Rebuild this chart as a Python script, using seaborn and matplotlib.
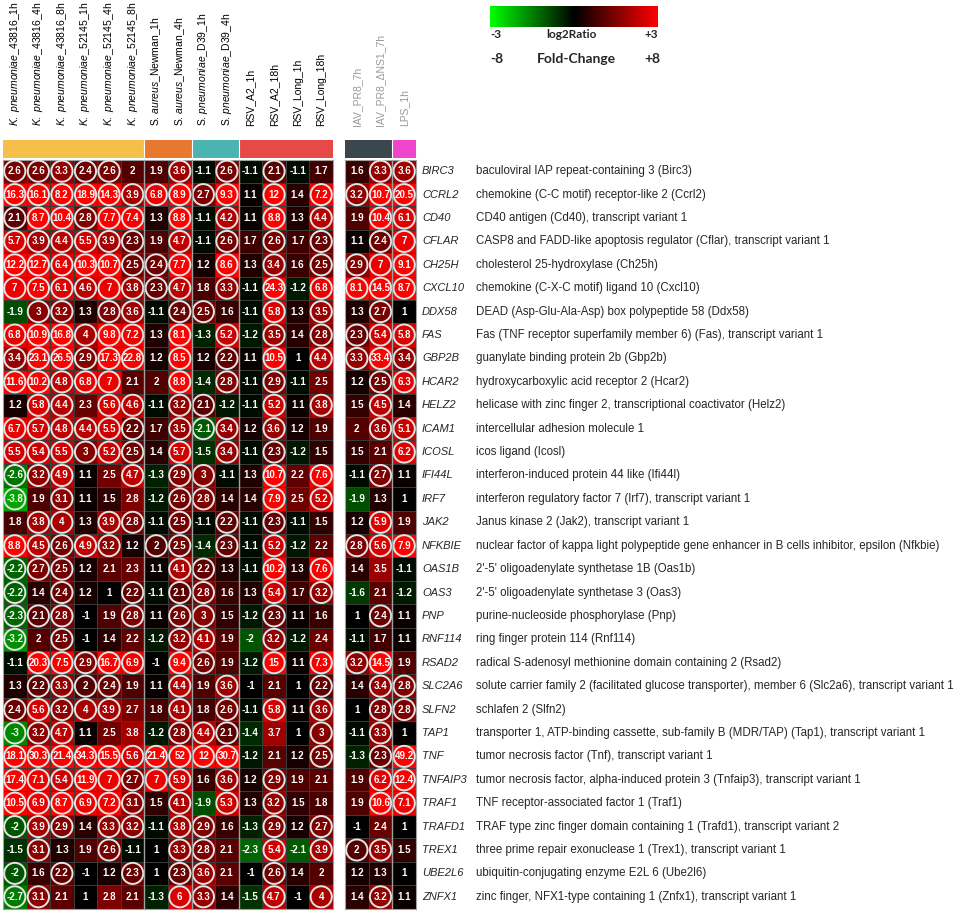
import numpy as np
import pandas as pd
import seaborn as sns
import matplotlib.pyplot as plt
from matplotlib.colors import LinearSegmentedColormap, ListedColormap
from matplotlib.patches import Circle

genes = ["BIRC3", "CCRL2", "CD40", "CFLAR", "CH25H", "CXCL10", "DDX58", "FAS",
         "GBP2B", "HCAR2", "HELZ2", "ICAM1", "ICOSL", "IFI44L", "IRF7", "JAK2",
         "NFKBIE", "OAS1B", "OAS3", "PNP", "RNF114", "RSAD2", "SLC2A6", "SLFN2",
         "TAP1", "TNF", "TNFAIP3", "TRAF1", "TRAFD1", "TREX1", "UBE2L6", "ZNFX1"]

descriptions = [
    "baculoviral IAP repeat-containing 3 (Birc3)",
    "chemokine (C-C motif) receptor-like 2 (Ccrl2)",
    "CD40 antigen (Cd40), transcript variant 1",
    "CASP8 and FADD-like apoptosis regulator (Cflar), transcript variant 1",
    "cholesterol 25-hydroxylase (Ch25h)",
    "chemokine (C-X-C motif) ligand 10 (Cxcl10)",
    "DEAD (Asp-Glu-Ala-Asp) box polypeptide 58 (Ddx58)",
    "Fas (TNF receptor superfamily member 6) (Fas), transcript variant 1",
    "guanylate binding protein 2b (Gbp2b)",
    "hydroxycarboxylic acid receptor 2 (Hcar2)",
    "helicase with zinc finger 2, transcriptional coactivator (Helz2)",
    "intercellular adhesion molecule 1",
    "icos ligand (Icosl)",
    "interferon-induced protein 44 like (Ifi44l)",
    "interferon regulatory factor 7 (Irf7), transcript variant 1",
    "Janus kinase 2 (Jak2), transcript variant 1",
    "nuclear factor of kappa light polypeptide gene enhancer in B cells inhibitor, epsilon (Nfkbie)",
    "2'-5' oligoadenylate synthetase 1B (Oas1b)",
    "2'-5' oligoadenylate synthetase 3 (Oas3)",
    "purine-nucleoside phosphorylase (Pnp)",
    "ring finger protein 114 (Rnf114)",
    "radical S-adenosyl methionine domain containing 2 (Rsad2)",
    "solute carrier family 2 (facilitated glucose transporter), member 6 (Slc2a6), transcript variant 1",
    "schlafen 2 (Slfn2)",
    "transporter 1, ATP-binding cassette, sub-family B (MDR/TAP) (Tap1), transcript variant 1",
    "tumor necrosis factor (Tnf), transcript variant 1",
    "tumor necrosis factor, alpha-induced protein 3 (Tnfaip3), transcript variant 1",
    "TNF receptor-associated factor 1 (Traf1)",
    "TRAF type zinc finger domain containing 1 (Trafd1), transcript variant 2",
    "three prime repair exonuclease 1 (Trex1), transcript variant 1",
    "ubiquitin-conjugating enzyme E2L 6 (Ube2l6)",
    "zinc finger, NFX1-type containing 1 (Znfx1), transcript variant 1",
]

bacteria_virus = [r"$\mathit{K.\ pneumoniae}$_43816_1h", r"$\mathit{K.\ pneumoniae}$_43816_4h",
                  r"$\mathit{K.\ pneumoniae}$_43816_8h", r"$\mathit{K.\ pneumoniae}$_52145_1h",
                  r"$\mathit{K.\ pneumoniae}$_52145_4h", r"$\mathit{K.\ pneumoniae}$_52145_8h",
                  r"S. $\mathit{aureus}$_Newman_1h", r"S. $\mathit{aureus}$_Newman_4h",
                  r"S. $\mathit{pneumoniae}$_D39_1h", r"S. $\mathit{pneumoniae}$_D39_4h",
                  "RSV_A2_1h", "RSV_A2_18h", "RSV_Long_1h", "RSV_Long_18h"]
other_conditions = ["IAV_PR8_7h", "IAV_PR8_\u0394NS1_7h", "LPS_1h"]

left_groups = [0, 0, 0, 0, 0, 0, 1, 1, 2, 2, 3, 3, 3, 3]
right_groups = [4, 4, 5]
group_colors = ["#F4C04A", "#E8782F", "#4BB4B1", "#E64A46", "#3B474F", "#EE45CC"]

# fold change, 14 left columns then IAV_PR8_7h, IAV_PR8_dNS1_7h, LPS_1h
fold_change = [
    [2.6, 2.6, 3.3, 2.4, 2.6, 2, 1.9, 3.6, -1.1, 2.6, -1.1, 2.1, -1.1, 1.7, 1.6, 3.3, 3.6],
    [16.3, 16.1, 8.2, 18.9, 14.3, 3.9, 6.8, 8.9, 2.7, 9.3, 1.1, 12, 1.4, 7.2, 3.2, 10.7, 20.5],
    [2.1, 8.7, 10.4, 2.8, 7.7, 7.4, 1.3, 8.8, -1.1, 4.2, 1.1, 8.8, 1.3, 4.4, 1.9, 10.4, 6.1],
    [5.7, 3.9, 4.4, 5.5, 3.9, 2.3, 1.9, 4.7, -1.1, 2.6, 1.7, 2.6, 1.7, 2.3, 1.1, 2.4, 7],
    [12.2, 12.7, 6.4, 10.3, 10.7, 2.5, 2.4, 7.7, 1.2, 8.6, 1.3, 3.4, 1.6, 2.5, 2.9, 7, 9.1],
    [7, 7.5, 6.1, 4.6, 7, 3.8, 2.3, 4.7, 1.8, 3.3, -1.1, 24.3, -1.2, 6.8, 8.1, 14.5, 8.7],
    [-1.9, 3, 3.2, 1.3, 2.8, 3.6, -1.1, 2.4, 2.5, 1.6, -1.1, 5.8, 1.3, 3.5, 1.3, 2.7, 1],
    [6.8, 10.9, 16.8, 4, 9.8, 7.2, 1.3, 8.1, -1.3, 5.2, -1.2, 3.5, 1.4, 2.8, 2.3, 5.4, 5.8],
    [3.4, 23.1, 26.5, 2.9, 17.3, 22.8, 1.2, 8.5, 1.2, 2.2, 1.1, 10.5, 1, 4.4, 3.3, 33.4, 3.4],
    [11.6, 10.2, 4.8, 6.8, 7, 2.1, 2, 8.8, -1.4, 2.8, -1.1, 2.9, -1.1, 2.5, 1.2, 2.5, 6.3],
    [1.2, 5.8, 4.4, 2.3, 5.6, 4.6, -1.1, 3.2, 2.1, -1.2, -1.1, 5.2, 1.1, 3.8, 1.5, 4.5, 1.4],
    [6.7, 5.7, 4.8, 4.4, 5.5, 2.2, 1.7, 3.5, -2.1, 3.4, 1.2, 3.6, 1.2, 1.9, 2, 3.6, 5.1],
    [5.5, 5.4, 5.5, 3, 5.2, 2.5, 1.4, 5.7, -1.5, 3.4, -1.1, 2.3, -1.2, 1.5, 1.5, 2.1, 6.2],
    [-2.6, 3.2, 4.9, 1.1, 2.5, 4.7, -1.3, 2.9, 3, -1.1, 1.3, 10.7, 2.2, 7.6, -1.1, 2.7, 1.1],
    [-3.8, 1.9, 3.1, 1.1, 1.5, 2.8, -1.2, 2.6, 2.8, 1.4, 1.4, 7.9, 2.5, 5.2, -1.9, 1.3, 1],
    [1.8, 3.8, 4, 1.3, 3.9, 2.8, -1.1, 2.5, -1.1, 2.2, -1.1, 2.3, -1.1, 1.5, 1.2, 5.9, 1.9],
    [8.8, 4.5, 2.6, 4.9, 3.2, 1.2, 2, 2.5, -1.4, 2.3, -1.1, 5.2, -1.2, 2.2, 2.8, 5.6, 7.9],
    [-2.2, 2.7, 2.5, 1.2, 2.1, 2.3, 1.1, 4.1, 2.2, 1.3, -1.1, 10.2, 1.3, 7.6, 1.4, 3.5, -1.1],
    [-2.2, 1.4, 2.4, 1.2, 1, 2.2, -1.1, 2.1, 2.8, 1.6, 1.3, 5.4, 1.7, 3.2, -1.6, 2.1, -1.2],
    [-2.3, 2.1, 2.8, -1, 1.9, 2.8, 1.1, 2.6, 3, 1.5, -1.2, 2.3, 1.1, 1.6, 1, 2.4, 1.1],
    [-3.2, 2, 2.5, -1, 1.4, 2.2, -1.2, 3.2, 4.1, 1.9, -2, 3.2, -1.2, 2.4, -1.1, 1.7, 1.1],
    [-1.1, 20.3, 7.5, 2.9, 16.7, 6.9, -1, 9.4, 2.6, 1.9, -1.2, 15, 1.1, 7.3, 3.2, 14.5, 1.9],
    [1.3, 2.2, 3.3, 2, 2.4, 1.9, 1.1, 4.4, 1.9, 3.6, -1, 2.1, 1, 2.2, 1.4, 3.4, 2.8],
    [2.4, 5.6, 3.2, 4, 3.9, 2.7, 1.8, 4.1, 1.8, 2.6, -1.1, 5.8, 1.1, 3.6, 1, 2.8, 2.8],
    [-3, 3.2, 4.7, 1.1, 2.5, 3.8, -1.2, 2.8, 4.4, 2.1, -1.4, 3.7, 1, 3, -1.1, 3.3, 1],
    [18.1, 30.3, 21.4, 34.3, 15.5, 5.6, 21.4, 52, 12, 30.7, -1.2, 2.1, 1.2, 2.5, -1.3, 2.3, 49.2],
    [17.4, 7.1, 5.4, 11.9, 7, 2.7, 7, 5.9, 1.6, 3.6, 1.2, 2.9, 1.9, 2.1, 1.9, 6.2, 12.4],
    [10.5, 6.9, 8.7, 6.9, 7.2, 3.1, 1.5, 4.1, -1.9, 5.3, 1.3, 3.2, 1.5, 1.8, 1.9, 10.6, 7.1],
    [-2, 3.9, 2.9, 1.4, 3.3, 3.2, -1.1, 3.8, 2.9, 1.6, -1.3, 2.9, 1.2, 2.7, -1, 2.4, 1],
    [-1.5, 3.1, 1.3, 1.9, 2.6, -1.1, 1, 3.3, 2.8, 2.1, -2.3, 5.4, -2.1, 3.9, 2, 3.5, 1.5],
    [-2, 1.6, 2.2, -1, 1.2, 2.3, 1, 2.3, 3.6, 2.1, -1, 2.6, 1.4, 2, 1.2, 1.3, 1],
    [-2.7, 3.1, 2.1, 1, 2.8, 2.1, -1.3, 6, 3.3, 1.4, -1.5, 4.7, -1, 4, 1.4, 3.2, 1.1],
]

# 1 = circled (significant)
significant = [
    "11111001010100011", "11111111110101111", "11111101010101011", "11111101010101011",
    "11111111010101111", "11111111010101111", "01101101100101010", "11111101010101111",
    "11111101010101111", "11111001010100011", "01101101100101010", "11111101110100011",
    "11111101010100001", "11100101100101010", "10100001100101000", "01101101010100010",
    "11111011010100111", "11100001100101000", "10100101100101000", "11100101100100010",
    "10100001100100000", "01111101100101110", "01111001010001011", "11111001010101011",
    "11100001110001010", "11111111110001011", "11111111010100011", "11111101010100011",
    "11101101100101000", "01001001100101110", "10100101100100000", "11000001100101010",
]

W, H = 969, 917
sns.set_style("white")
plt.rcParams["font.family"] = ["Liberation Sans", "DejaVu Sans"]
plt.rcParams["mathtext.fontset"] = "custom"
plt.rcParams["mathtext.rm"] = "Liberation Sans"
plt.rcParams["mathtext.it"] = "Liberation Sans:italic"

fig = plt.figure(figsize=(W / 100, H / 100), dpi=100)


def px_axes(x0, y0, x1, y1):
    return fig.add_axes([x0 / W, 1 - y1 / H, (x1 - x0) / W, (y1 - y0) / H])


fc = np.array(fold_change, dtype=float)
log2ratio = np.sign(fc) * np.log2(np.abs(fc))
labels = np.array([[f"{v:g}" for v in row] for row in fold_change])
sig = np.array([[c == "1" for c in row] for row in significant])

cmap = LinearSegmentedColormap.from_list("gkr", ["#00ff00", "#000000", "#ff0000"])
n_left = len(bacteria_virus)

blocks = [
    (px_axes(3, 159.5, 333, 908.5), px_axes(3, 140, 333, 158), slice(0, n_left),
     bacteria_virus, left_groups, "black"),
    (px_axes(345, 159.5, 416, 908.5), px_axes(345, 140, 416, 158), slice(n_left, None),
     other_conditions, right_groups, "#999999"),
]

for ax, ax_head, cols, names, groups, label_color in blocks:
    df = pd.DataFrame(log2ratio[:, cols], index=genes, columns=names)
    sns.heatmap(df, ax=ax, cmap=cmap, vmin=-3, vmax=3, cbar=False,
                annot=labels[:, cols], fmt="", linewidths=0.6, linecolor="#3a3a3a",
                annot_kws={"color": "white", "fontsize": 7, "fontweight": "bold"})
    ax.set_xticks([])
    ax.set_yticks([])
    ax.set_xlabel("")
    ax.set_ylabel("")
    sub_sig = sig[:, cols]
    for i in range(sub_sig.shape[0]):
        for j in range(sub_sig.shape[1]):
            if sub_sig[i, j]:
                ax.add_patch(Circle((j + 0.5, i + 0.5), 0.45, fill=False,
                                    edgecolor="#e4e4e4", lw=1.4, zorder=3))
    # light separators between infection groups
    for k in range(1, len(groups)):
        if groups[k] != groups[k - 1]:
            ax.axvline(k, color="#a0a0a0", lw=1.0, zorder=4)
    for s in ax.spines.values():
        s.set_visible(True)
        s.set_color("#a0a0a0")
        s.set_linewidth(0.8)

    head = pd.DataFrame([groups], columns=names)
    sns.heatmap(head, ax=ax_head, cmap=ListedColormap(group_colors), vmin=-0.5,
                vmax=len(group_colors) - 0.5, cbar=False, linewidths=0)
    ax_head.xaxis.tick_top()
    ax_head.set_xticks(np.arange(len(names)) + 0.5)
    ax_head.set_xticklabels(names, rotation=90, fontsize=7.5, color=label_color)
    ax_head.tick_params(axis="x", length=0, pad=10)
    ax_head.set_yticks([])
    ax_head.set_ylabel("")
    for k in range(1, len(groups)):
        if groups[k] != groups[k - 1]:
            ax_head.axvline(k, color="white", lw=0.8)

# gene symbols and descriptions
ax_main = blocks[0][0]
for i, (g, d) in enumerate(zip(genes, descriptions)):
    y_fig = 1 - (159.5 + (i + 0.5) * 749 / len(genes)) / H
    fig.text(422 / W, y_fig, g, fontsize=8, style="italic", va="center", ha="left")
    fig.text(476 / W, y_fig, d, fontsize=8.3, va="center", ha="left")

# colour key
cax = px_axes(490, 6, 658, 27)
cb = fig.colorbar(ax_main.collections[0], cax=cax, orientation="horizontal")
cb.set_ticks([])
cb.outline.set_visible(False)
key_font = ["Lato", "DejaVu Sans"]
fig.text(490 / W, 1 - 35 / H, "-3", fontsize=8.5, fontweight="bold", family=key_font, va="center", ha="left")
fig.text(571 / W, 1 - 35 / H, "log2Ratio", fontsize=8.5, fontweight="bold", family=key_font, va="center", ha="center")
fig.text(658 / W, 1 - 35 / H, "+3", fontsize=8.5, fontweight="bold", family=key_font, va="center", ha="right")
fig.text(490 / W, 1 - 59 / H, "-8", fontsize=10, fontweight="bold", family=key_font, va="center", ha="left")
fig.text(576 / W, 1 - 59 / H, "Fold-Change", fontsize=10, fontweight="bold", family=key_font, va="center", ha="center")
fig.text(660 / W, 1 - 59 / H, "+8", fontsize=10, fontweight="bold", family=key_font, va="center", ha="right")

fig.savefig("out.png", dpi=100)
